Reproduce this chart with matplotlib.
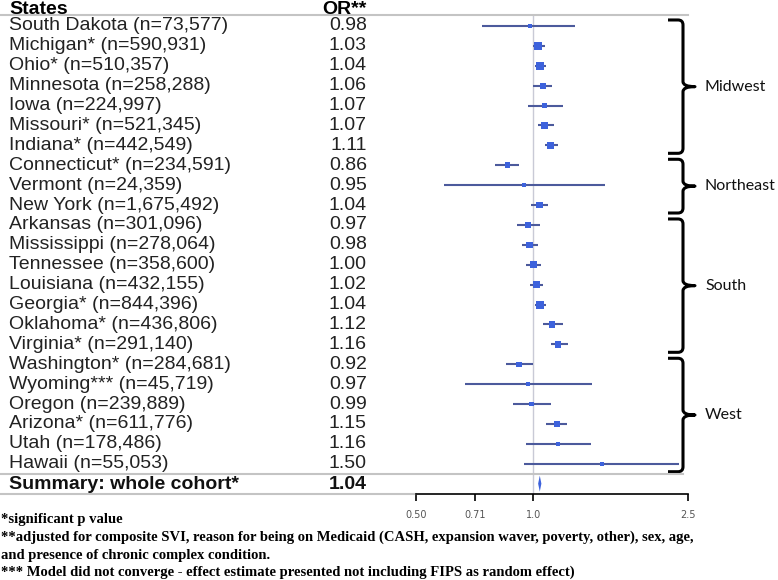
import numpy as np
import matplotlib
matplotlib.use("Agg")
import matplotlib.pyplot as plt
from matplotlib.path import Path
from matplotlib.patches import PathPatch
import matplotlib.transforms as mtransforms

# ---------------- data ----------------
states = ["South Dakota (n=73,577)", "Michigan* (n=590,931)", "Ohio* (n=510,357)",
          "Minnesota (n=258,288)", "Iowa (n=224,997)", "Missouri* (n=521,345)",
          "Indiana* (n=442,549)", "Connecticut* (n=234,591)", "Vermont (n=24,359)",
          "New York (n=1,675,492)", "Arkansas (n=301,096)", "Mississippi (n=278,064)",
          "Tennessee (n=358,600)", "Louisiana (n=432,155)", "Georgia* (n=844,396)",
          "Oklahoma* (n=436,806)", "Virginia* (n=291,140)", "Washington* (n=284,681)",
          "Wyoming*** (n=45,719)", "Oregon (n=239,889)", "Arizona* (n=611,776)",
          "Utah (n=178,486)", "Hawaii (n=55,053)"]
odds_ratio = [0.98, 1.03, 1.04, 1.06, 1.07, 1.07, 1.11, 0.86, 0.95, 1.04, 0.97, 0.98,
              1.00, 1.02, 1.04, 1.12, 1.16, 0.92, 0.97, 0.99, 1.15, 1.16, 1.50]
ci_low = [0.74, 1.00, 1.01, 1.00, 0.97, 1.03, 1.07, 0.80, 0.59, 0.99, 0.91, 0.935,
          0.96, 0.98, 1.01, 1.06, 1.11, 0.85, 0.67, 0.89, 1.08, 0.96, 0.95]
ci_high = [1.28, 1.07, 1.08, 1.12, 1.19, 1.13, 1.16, 0.92, 1.53, 1.09, 1.04, 1.03,
           1.05, 1.06, 1.08, 1.19, 1.23, 1.00, 1.42, 1.11, 1.22, 1.41, 2.37]
or_labels = ["0.98", "1.03", "1.04", "1.06", "1.07", "1.07", "1.11", "0.86", "0.95",
             "1.04", "0.97", "0.98", "1.00", "1.02", "1.04", "1.12", "1.16", "0.92",
             "0.97", "0.99", "1.15", "1.16", "1.50"]
summary_label = "Summary: whole cohort*"
summary_or, summary_lo, summary_hi = 1.04, 1.03, 1.05
summary_or_label = "1.04"
regions = ["Midwest", "Northeast", "South", "West"]
region_first = [0, 7, 10, 17]
region_last = [6, 9, 16, 22]
xticks = [0.50, 0.71, 1.0, 2.5]
xtick_labels = ["0.50", "0.71", "1.0", "2.5"]
footnotes = ["*significant p value",
             "**adjusted for composite SVI, reason for being on Medicaid (CASH, expansion waver, poverty, other), sex, age,",
             "and presence of chronic complex condition.",
             "*** Model did not converge - effect estimate presented not including FIPS as random effect)"]

# ---------------- figure ----------------
W, H = 778, 580
fig = plt.figure(figsize=(W / 100, H / 100), dpi=100)
ax_left, ax_right = 416, 688
ax_top, ax_bot = 15, 493.6
ax = fig.add_axes([ax_left / W, 1 - ax_bot / H, (ax_right - ax_left) / W, (ax_bot - ax_top) / H])
ax.set_xscale("log")
ax.set_xlim(0.5, 2.5)
ax.set_ylim(23.5, -0.55)

n = len(states)
ys = np.arange(n)
mcol = "#3d62dc"
lcol = "#4c5a9c"

ax.axvline(1.0, color="#c9cad6", lw=1, zorder=1)
ax.hlines(ys, ci_low, ci_high, color=lcol, lw=1.5, zorder=2)
lw_ref = np.log(1.07 / 1.00)
widths = np.log(np.array(ci_high) / np.array(ci_low))
side_px = np.maximum(4.0, 8.0 * np.sqrt(lw_ref / widths))
ax.scatter(odds_ratio, ys, marker="s", s=(side_px * 0.72) ** 2, color=mcol,
           edgecolors="none", zorder=3)

ysum = 23.0
ax.fill([summary_lo, summary_or, summary_hi, summary_or],
        [ysum, ysum - 0.4, ysum, ysum + 0.4], color=mcol, zorder=3, lw=0)

for s in ["top", "left", "right"]:
    ax.spines[s].set_visible(False)
ax.spines["bottom"].set_color("black")
ax.spines["bottom"].set_linewidth(1.2)
ax.set_yticks([])
ax.set_xticks(xticks)
ax.set_xticklabels(xtick_labels)
ax.xaxis.set_minor_locator(matplotlib.ticker.NullLocator())
ax.tick_params(axis="x", direction="out", length=5, width=1.2, color="black",
               labelsize=7, labelcolor="#555555", pad=6.5)

# blended transforms
tfig = mtransforms.blended_transform_factory(fig.transFigure, ax.transData)
tax = mtransforms.blended_transform_factory(ax.transAxes, ax.transData)

# horizontal rule lines
gray = "#c4c4c4"
ax.plot([0, ax_right / W], [-0.55, -0.55], transform=tfig, color=gray, lw=1.5, clip_on=False)
ax.plot([0, 683 / W], [22.5, 22.5], transform=tfig, color=gray, lw=1.5, clip_on=False)
ax.plot([0, ax_left / W], [23.5, 23.5], transform=tfig, color=gray, lw=1.5, clip_on=False)

# text columns
fam = ["Liberation Sans", "DejaVu Sans"]
xs_name = 9 / W
xs_or = 367 / W
ax.text(xs_name, -0.82, "States", transform=tfig, ha="left", va="center",
        fontsize=14, fontweight="bold", family=fam)
ax.text(xs_or, -0.82, "OR**", transform=tfig, ha="right", va="center",
        fontsize=14, fontweight="bold", family=fam)
for i in range(n):
    ax.text(xs_name, ys[i], states[i], transform=tfig, ha="left", va="center",
            fontsize=14, family=fam, color="#222222")
    ax.text(xs_or, ys[i], or_labels[i], transform=tfig, ha="right", va="center",
            fontsize=14, family=fam, color="#222222")
ax.text(xs_name, ysum + 0.05, summary_label, transform=tfig, ha="left", va="center",
        fontsize=14, fontweight="bold", family=fam, color="#111111")
ax.text(xs_or, ysum + 0.05, summary_or_label, transform=tfig, ha="right", va="center",
        fontsize=14, fontweight="bold", family=fam, color="#111111")

# brackets
span = ax_right - ax_left
xs_stem = (683 - ax_left) / span
xs_hook = (668 - ax_left) / span
xs_tip = (695 - ax_left) / span
dx = 5 / span
dy = 0.25
for name, a, b in zip(regions, region_first, region_last):
    yt, yb = a - 0.3, b + 0.4
    ym = (yt + yb) / 2
    verts = [(xs_hook, yt), (xs_stem - dx, yt), (xs_stem, yt), (xs_stem, yt + dy),
             (xs_stem, ym - dy), (xs_stem, ym), (xs_tip, ym),
             (xs_stem, ym), (xs_stem, ym + dy),
             (xs_stem, yb - dy), (xs_stem, yb), (xs_stem - dx, yb), (xs_hook, yb)]
    codes = [Path.MOVETO, Path.LINETO, Path.CURVE3, Path.CURVE3,
             Path.LINETO, Path.CURVE3, Path.CURVE3,
             Path.CURVE3, Path.CURVE3,
             Path.LINETO, Path.CURVE3, Path.CURVE3, Path.LINETO]
    ax.add_patch(PathPatch(Path(verts, codes), transform=tax, fill=False,
                           edgecolor="black", lw=2.2, clip_on=False, capstyle="butt",
                           joinstyle="round"))
    ax.text((705 - ax_left) / span, ym, name, transform=tax, ha="left", va="center",
            fontsize=11.5, family=["Lato", "DejaVu Sans"], color="#111111")

# footnotes
for k, (txt, ypx) in enumerate(zip(footnotes, [519, 537, 555, 572])):
    fig.text(1 / W, 1 - ypx / H, txt, ha="left", va="center", fontsize=10.5,
             fontweight="bold", family=["Liberation Serif", "DejaVu Serif"], color="black")

fig.savefig("out.png", dpi=100)
